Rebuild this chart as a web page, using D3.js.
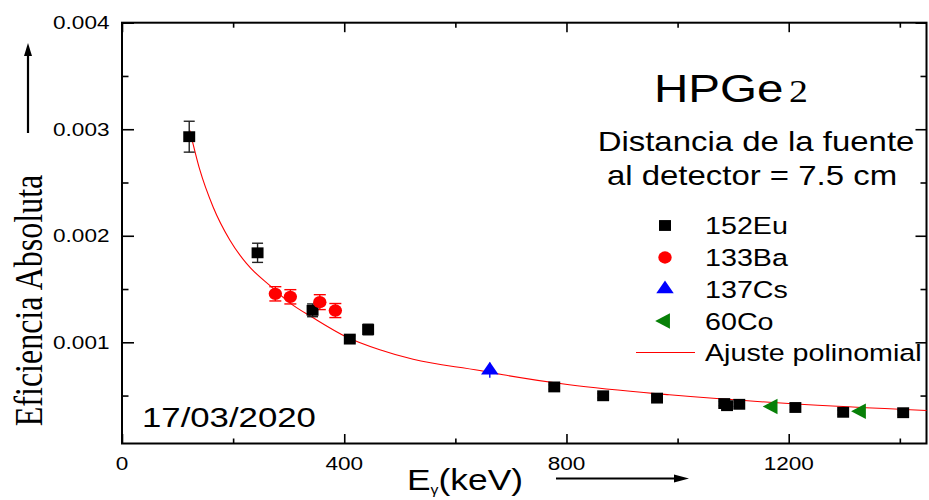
<!DOCTYPE html>
<html><head><meta charset="utf-8">
<script src="https://cdn.jsdelivr.net/npm/d3@7"></script>
<style>html,body{margin:0;padding:0;background:#fff;}svg{display:block;}</style>
</head><body>
<svg id="chart" width="929" height="500"></svg>
<script>
// ---------- data ----------
const euE   = [121, 244, 343, 410, 443, 778, 866, 963, 1084, 1089, 1111, 1212, 1298, 1406];
const euEff = [0.00293, 0.00184, 0.00130, 0.00103, 0.00112, 0.000581, 0.000498, 0.000476, 0.000425, 0.000405, 0.000418, 0.000388, 0.000343, 0.000339];
const euErr = [0.000145, 0.00009, 0.00006, 0.00003, 0.00005, 0.00002, 0.00002, 0.00002, 0.00002, 0.00002, 0.00002, 0.00002, 0.00002, 0.00002];
const baE   = [276, 303, 356, 384];
const baEff = [0.001455, 0.001427, 0.001377, 0.001298];
const baErr = [0.000067, 0.000067, 0.00007, 0.000066];
const csE   = [662];
const csEff = [0.000738];
const csErr = [0.00007];
const coE   = [1171, 1330];
const coEff = [0.000398, 0.000353];
const fitE   = [122, 140, 164, 194, 224, 269, 302, 344, 404, 464, 524, 644, 686, 805, 985, 1207, 1448];
const fitEff = [0.00299, 0.00262, 0.00227, 0.00196, 0.00174, 0.00152, 0.00137, 0.00123, 0.00105, 0.00093, 0.00084, 0.000735, 0.000695, 0.000601, 0.000507, 0.000423, 0.00036];
const xMajor = [0, 400, 800, 1200];
const xMinor = [200, 600, 1000, 1400];
const yMajor = [0.001, 0.002, 0.003, 0.004];
const yMinor = [0.0005, 0.0015, 0.0025, 0.0035];
const yTickLabels = ["0.001", "0.002", "0.003", "0.004"];
const xTickLabels = ["0", "400", "800", "1200"];
const legendItems = ["152Eu", "133Ba", "137Cs", "60Co", "Ajuste polinomial"];

// ---------- layout ----------
const SX = 1.22; // horizontal stretch of the original figure
const L = 122, R = 926.5, T = 22.7, B = 443.5;
const SANS = "'Liberation Sans', Arial, sans-serif";
const SERIF = "'Liberation Serif', 'Times New Roman', serif";
const RED = "#ff0000", BLUE = "#0000ff", GREEN = "#078007";

const svg = d3.select("#chart");
const x = d3.scaleLinear().domain([0, 1448]).range([L, R]);
const y = d3.scaleLinear().domain([0.00005, 0.004]).range([B, T]);

function txt(g, px, py, s, opt) {
  opt = opt || {};
  return g.append("text")
    .attr("transform", `translate(${px},${py}) scale(${opt.sx || SX},1)` + (opt.rot ? ` rotate(${opt.rot})` : ""))
    .attr("font-family", opt.family || SANS)
    .attr("font-size", opt.size || 18)
    .attr("text-anchor", opt.anchor || "start")
    .attr("fill", "#000")
    .text(s);
}

// ---------- axes (ticks inward on all four sides) ----------
function addAxis(axisFn, scale, vals, size, tf) {
  const g = svg.append("g").attr("transform", tf)
    .call(axisFn(scale).tickValues(vals).tickSizeInner(-size).tickSizeOuter(0).tickFormat(""));
  g.select(".domain").remove();
  g.selectAll("line").attr("stroke", "#000").attr("stroke-width", 1.6);
  return g;
}
addAxis(d3.axisBottom, x, xMajor, 9.5, `translate(0,${B})`);
addAxis(d3.axisBottom, x, xMinor, 5, `translate(0,${B})`);
addAxis(d3.axisTop, x, xMajor, 9.5, `translate(0,${T})`);
addAxis(d3.axisTop, x, xMinor, 5, `translate(0,${T})`);
addAxis(d3.axisLeft, y, yMajor, 12, `translate(${L},0)`);
addAxis(d3.axisLeft, y, yMinor, 6.5, `translate(${L},0)`);
addAxis(d3.axisRight, y, yMajor, 11, `translate(${R},0)`);
addAxis(d3.axisRight, y, yMinor, 6, `translate(${R},0)`);

svg.append("rect").attr("x", L).attr("y", T).attr("width", R - L).attr("height", B - T)
  .attr("fill", "none").attr("stroke", "#000").attr("stroke-width", 2);

// tick labels
const lab = svg.append("g");
yMajor.forEach((v, i) => txt(lab, 109.5, y(v) + 6.6, yTickLabels[i], {size: 18.5, anchor: "end"}));
xMajor.forEach((v, i) => txt(lab, x(v), 470, xTickLabels[i], {size: 18.5, anchor: "middle"}));

// axis titles
txt(svg, 41.5, 300.5, "Eficiencia Absoluta", {family: SERIF, size: 32, anchor: "middle", rot: -90});
const xt = svg.append("text").attr("transform", `translate(407,490) scale(${SX},1)`)
  .attr("font-family", SANS).attr("font-size", 29);
xt.append("tspan").text("E");
xt.append("tspan").attr("font-size", 13).attr("dy", 4).text("γ");
xt.append("tspan").attr("dy", -4).text("(keV)");

// arrows
svg.append("line").attr("x1", 28).attr("x2", 28).attr("y1", 133).attr("y2", 52).attr("stroke", "#000").attr("stroke-width", 2.2);
svg.append("path").attr("d", "M28,43 L24,56 L32,56 Z").attr("fill", "#000");
svg.append("line").attr("x1", 556).attr("x2", 678).attr("y1", 478.5).attr("y2", 478.5).attr("stroke", "#000").attr("stroke-width", 2);
svg.append("path").attr("d", "M689,478.5 L674,474.5 L674,482.5 Z").attr("fill", "#000");

// ---------- fit curve ----------
const line = d3.line().x(d => x(d[0])).y(d => y(d[1])).curve(d3.curveMonotoneX);
svg.append("path").datum(fitE.map((e, i) => [e, fitEff[i]]))
  .attr("d", line).attr("fill", "none").attr("stroke", RED).attr("stroke-width", 1.1);

// ---------- error bars + markers ----------
function errBars(E, V, Err, color, cap) {
  const g = svg.append("g").attr("stroke", color).attr("stroke-width", 1.4);
  E.forEach((e, i) => {
    const cx = x(e), y1 = y(V[i] + Err[i]), y2 = y(V[i] - Err[i]);
    g.append("line").attr("x1", cx).attr("x2", cx).attr("y1", y1).attr("y2", y2);
    if (cap) {
      g.append("line").attr("x1", cx - cap).attr("x2", cx + cap).attr("y1", y1).attr("y2", y1);
      g.append("line").attr("x1", cx - cap).attr("x2", cx + cap).attr("y1", y2).attr("y2", y2);
    }
  });
}
errBars(euE, euEff, euErr, "#222", 5.5);
errBars(baE, baEff, baErr, RED, 6);
errBars(csE, csEff, csErr, BLUE, 0);

function marker(g, kind, cx, cy, color) {
  const sq = d3.symbol().type(d3.symbolSquare).size(118)();
  const ci = d3.symbol().type(d3.symbolCircle).size(120)();
  const tr = d3.symbol().type(d3.symbolTriangle).size(95)();
  if (kind === "square") g.append("path").attr("d", sq).attr("transform", `translate(${cx},${cy}) scale(1.1,1)`).attr("fill", color);
  if (kind === "circle") g.append("path").attr("d", ci).attr("transform", `translate(${cx},${cy}) scale(1.08,1)`).attr("fill", color);
  if (kind === "up") g.append("path").attr("d", tr).attr("transform", `translate(${cx},${cy}) scale(1.18,1)`).attr("fill", color);
  if (kind === "left") g.append("path").attr("d", tr).attr("transform", `translate(${cx},${cy}) rotate(-90) scale(1.05,1.15)`).attr("fill", color);
}
const mk = svg.append("g");
euE.forEach((e, i) => marker(mk, "square", x(e), y(euEff[i]), "#000"));
baE.forEach((e, i) => marker(mk, "circle", x(e), y(baEff[i]), RED));
csE.forEach((e, i) => marker(mk, "up", x(e), y(csEff[i]), BLUE));
coE.forEach((e, i) => marker(mk, "left", x(e), y(coEff[i]), GREEN));

// ---------- annotations ----------
txt(svg, 654, 102, "HPGe", {size: 39});
txt(svg, 789, 102, "2", {size: 31, family: SERIF});
txt(svg, 756, 151, "Distancia de la fuente", {size: 27, anchor: "middle"});
txt(svg, 752, 185, "al detector = 7.5 cm", {size: 27, anchor: "middle"});
txt(svg, 142, 427, "17/03/2020", {size: 28.5});

// ---------- legend ----------
const lg = svg.append("g");
const rowY = [225.5, 257.5, 289, 321, 352.5];
const kinds = ["square", "circle", "up", "left"];
const kcol = ["#000", RED, BLUE, GREEN];
legendItems.forEach((s, i) => {
  if (i < 4) marker(lg, kinds[i], 665, rowY[i], kcol[i]);
  else lg.append("line").attr("x1", 636).attr("x2", 695).attr("y1", rowY[i]).attr("y2", rowY[i]).attr("stroke", RED).attr("stroke-width", 1.1);
  txt(lg, 705, rowY[i] + 8.6, s, {size: 23.5});
});
</script>
</body></html>
